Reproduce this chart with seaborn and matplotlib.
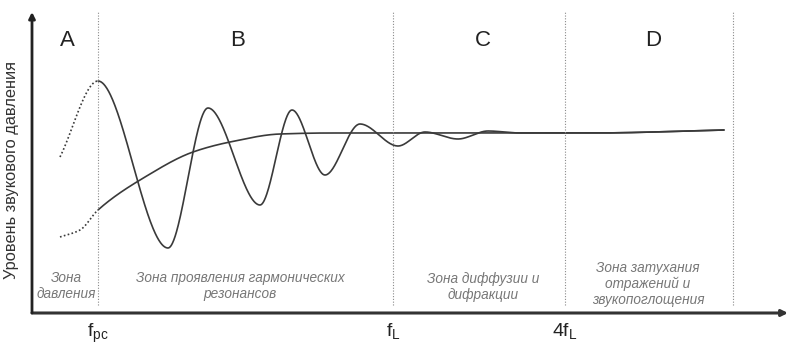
import numpy as np
import pandas as pd
import matplotlib
matplotlib.use("Agg")
import matplotlib.pyplot as plt
import seaborn as sns

# Zone boundaries (horizontal position along the frequency axis)
boundary_x = [66, 361, 533, 701]
tick_pos = [66, 361, 533]
tick_labels = [r"$\mathregular{f_{pc}}$", r"$\mathregular{f_{L}}$", r"$\mathregular{4f_{L}}$"]

zone_letters = ["A", "B", "C", "D"]
zone_letter_x = [35, 206, 451, 621]
zone_notes = ["Зона\nдавления",
              "Зона проявления гармонических\nрезонансов",
              "Зона диффузии и\nдифракции",
              "Зона затухания\nотражений и\nзвукопоглощения"]
zone_note_x = [34, 208, 451, 616]
zone_note_y = [27, 27, 26, 29]

# Resonant response: peaks and troughs of the room mode curve
osc_x = [28, 66, 136, 176, 228, 260, 293, 328, 366, 393, 426, 456, 488, 560, 692]
osc_y = [156, 232, 65, 205, 108, 203, 138, 189, 167, 181, 174, 182, 180, 180, 183]

# Smooth (averaged) response
avg_x = [28, 48, 66, 113, 161, 198, 248, 298, 400, 560, 692]
avg_y = [76, 83, 103, 136, 161, 171, 179, 180, 180, 180, 183]


def pchip(x, y, xn):
    x = np.asarray(x, float)
    y = np.asarray(y, float)
    h = np.diff(x)
    d = np.diff(y) / h
    m = np.zeros_like(y)
    m[0], m[-1] = d[0], d[-1]
    for k in range(1, len(x) - 1):
        if d[k - 1] * d[k] <= 0:
            m[k] = 0.0
        else:
            w1 = 2 * h[k] + h[k - 1]
            w2 = h[k] + 2 * h[k - 1]
            m[k] = (w1 + w2) / (w1 / d[k - 1] + w2 / d[k])
    idx = np.clip(np.searchsorted(x, xn) - 1, 0, len(x) - 2)
    t = (xn - x[idx]) / h[idx]
    h00 = 2 * t**3 - 3 * t**2 + 1
    h10 = t**3 - 2 * t**2 + t
    h01 = -2 * t**3 + 3 * t**2
    h11 = t**3 - t**2
    return (h00 * y[idx] + h10 * h[idx] * m[idx]
            + h01 * y[idx + 1] + h11 * h[idx] * m[idx + 1])


sns.set_theme(style="white")
plt.rcParams["font.family"] = ["Liberation Sans", "DejaVu Sans"]

fig = plt.figure(figsize=(7.88, 3.47), dpi=100)
ax = fig.add_axes([32 / 788, 34 / 347, 756 / 788, 301 / 347])
ax.set_xlim(0, 756)
ax.set_ylim(0, 301)
for s in ax.spines.values():
    s.set_visible(False)

line_col = "#3a3a3a"
xs_osc = np.linspace(osc_x[0], osc_x[-1], 1500)
ys_osc = pchip(osc_x, osc_y, xs_osc)
xs_avg = np.linspace(avg_x[0], avg_x[-1], 1500)
ys_avg = pchip(avg_x, avg_y, xs_avg)

curves = pd.DataFrame({
    "x": np.concatenate([xs_osc, xs_avg]),
    "y": np.concatenate([ys_osc, ys_avg]),
    "curve": ["osc"] * len(xs_osc) + ["avg"] * len(xs_avg),
    "part": np.where(np.concatenate([xs_osc, xs_avg]) < boundary_x[0], "low", "main"),
})
for (c, p), g in curves.groupby(["curve", "part"]):
    sns.lineplot(data=g, x="x", y="y", ax=ax, color=line_col, lw=1.2,
                 linestyle=(0, (1, 1.4)) if p == "low" else "-",
                 sort=False, estimator=None)

# Zone boundaries
for bx in boundary_x:
    ax.plot([bx, bx], [8, 301], color="#8a8a8a", lw=0.8, linestyle=(0, (1, 1.5)))

# Axes with arrows
ax.annotate("", xy=(1.0, 0), xytext=(0, 0), xycoords="axes fraction",
            arrowprops=dict(arrowstyle="-|>", color="#333333", lw=2.2,
                            mutation_scale=9, shrinkA=0, shrinkB=0))
ax.annotate("", xy=(0, 1.0), xytext=(0, 0), xycoords="axes fraction",
            arrowprops=dict(arrowstyle="-|>", color="#222222", lw=2,
                            mutation_scale=9, shrinkA=0, shrinkB=0))

for lx, lt in zip(zone_letter_x, zone_letters):
    ax.text(lx, 273, lt, ha="center", va="center", fontsize=16, color="#222222")

for nx, ny, nt in zip(zone_note_x, zone_note_y, zone_notes):
    ax.text(nx, ny, nt, ha="center", va="center", fontsize=9.8, style="italic",
            color="#777777", linespacing=1.2)

ax.set_xticks(tick_pos)
ax.set_xticklabels(tick_labels, fontsize=14, color="#222222")
ax.tick_params(axis="x", length=0, pad=6)
ax.set_yticks([])
ax.set_xlabel("")
ax.set_ylabel("")

fig.text(12 / 788, 1 - 170 / 347, "Уровень звукового давления", rotation=90,
         ha="center", va="center", fontsize=11.8, color="#333333")

fig.savefig("out.png", dpi=100, facecolor="white")
